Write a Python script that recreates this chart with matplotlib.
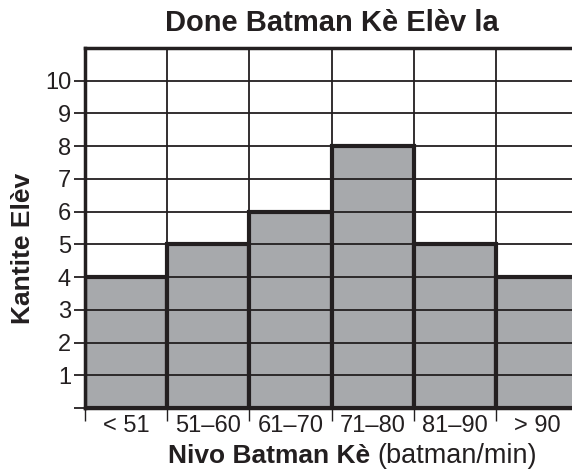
import matplotlib.pyplot as plt

plt.rcParams['font.family'] = ['Liberation Sans', 'DejaVu Sans']

## Data
bins = ['< 51', '51–60', '61–70', '71–80', '81–90', '> 90']
students = [4, 5, 6, 8, 5, 4]
y_ticks = list(range(1, 11))

ink = '#231f20'
fill = '#a7a9ac'

W, H = 572, 472
fig = plt.figure(figsize=(W / 100, H / 100), dpi=100)
# plot area in pixels: left 85, top 48, bottom 408, bin width ~82.2
left, top, bottom, bw = 85, 48, 408, 82.2
ax = fig.add_axes([left / W, 1 - bottom / H, 6 * bw / W, (bottom - top) / H])

x = list(range(len(bins)))
ax.bar(x, students, width=1.0, align='edge', color=fill, edgecolor=ink,
       linewidth=3, zorder=2)

ax.set_xlim(0, len(bins))
ax.set_ylim(0, 11)

# horizontal grid lines across the chart, drawn over the bars
for v in y_ticks:
    ax.axhline(v, color=ink, lw=1.3, zorder=3)
for b in range(1, len(bins)):
    ax.axvline(b, color=ink, lw=1.3, zorder=1)

ax.set_yticks([0] + y_ticks)
ax.set_yticklabels([''] + [str(v) for v in y_ticks])
ax.tick_params(axis='y', length=8, width=1.3, color=ink, labelsize=17,
               labelcolor=ink, pad=2)

ax.set_xticks(range(len(bins) + 1))
ax.set_xticklabels([])
ax.set_xticks([i + 0.5 for i in x], minor=True)
ax.set_xticklabels(bins, minor=True)
ax.tick_params(axis='x', which='major', length=9, width=1.0, color=ink)
ax.tick_params(axis='x', which='minor', length=0, labelsize=17,
               labelcolor=ink, pad=5)

for s in ['left', 'top', 'bottom', 'right']:
    ax.spines[s].set_color(ink)
    ax.spines[s].set_linewidth(2.5)
    ax.spines[s].set_zorder(4)

fig.text(332 / W, 1 - 23 / H, 'Done Batman Kè Elèv la', ha='center',
         va='center', fontsize=21, fontweight='bold', color=ink)

fig.text(23 / W, 1 - 248 / H, 'Kantite Elèv', rotation=90, ha='center',
         va='center', fontsize=19, fontweight='bold', color=ink)

fig.text(168 / W, 1 - 456 / H, 'Nivo Batman Kè', ha='left',
         va='center', fontsize=19, fontweight='bold', color=ink)
fig.text(377 / W, 1 - 456 / H, '(batman/min)', ha='left', va='center',
         fontsize=19.5, color=ink)

fig.savefig('out.png', dpi=100)
